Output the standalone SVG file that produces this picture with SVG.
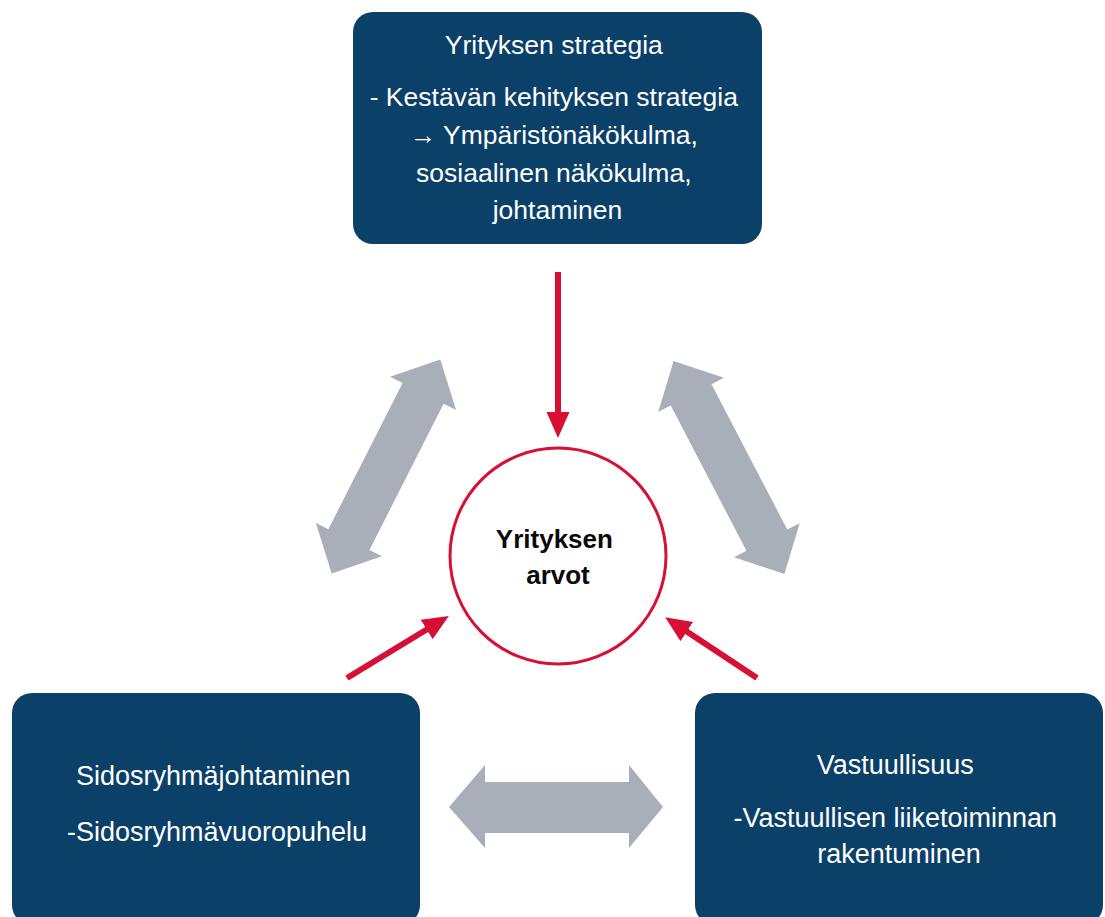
<svg xmlns="http://www.w3.org/2000/svg" width="1105" height="917" viewBox="0 0 1105 917">
  <style>
    .box { fill: #0B4068; }
    .boxtext { font-family: "Liberation Sans", Arial, sans-serif; fill: #FFFFFF; text-anchor: middle; }
    .core { fill: #FFFFFF; stroke: #D70F34; stroke-width: 3; }
    .coretext { font-family: "Liberation Sans", Arial, sans-serif; font-weight: bold; font-size: 26px; fill: #0A0A0A; text-anchor: middle; }
    .flow { stroke: #D70F34; stroke-width: 6; fill: none; marker-end: url(#redHead); }
    .link { fill: #A9AFB9; }
  </style>
  <defs>
    <marker id="redHead" markerUnits="userSpaceOnUse" markerWidth="27" markerHeight="25" refX="1" refY="11.5" orient="auto">
      <path d="M0,0 L26,11.5 L0,23 Z" fill="#D70F34"/>
    </marker>
    <!-- two-headed block arrow used for the links between the three pillars -->
    <path id="diagArrow" d="M-120,0 L-82,-37 L-82,-23 L82,-23 L82,-37 L120,0 L82,37 L82,23 L-82,23 L-82,37 Z"/>
  </defs>

  <g id="connectors">
    <!-- grey two-way links -->
    <use href="#diagArrow" class="link" transform="translate(386,466.5) rotate(-63.1)"/>
    <use href="#diagArrow" class="link" transform="translate(729,467.5) rotate(62.5)"/>
    <path class="link" d="M449,807 L485,765 L485,782 L629,782 L629,765 L663,807 L629,848 L629,833 L485,833 L485,848 Z"/>
    <!-- red arrows into the core values -->
    <line class="flow" x1="558" y1="272" x2="558" y2="413"/>
    <line class="flow" x1="347" y1="678" x2="427.5" y2="629"/>
    <line class="flow" x1="757" y1="678" x2="686" y2="631"/>
  </g>

  <g id="node-strategia">
    <rect class="box" x="353" y="12" width="409" height="232" rx="20"/>
    <text class="boxtext" font-size="26.5">
      <tspan x="557.5" y="54">Yrityksen strategia</tspan>
      <tspan x="557.5" y="106">- Kestävän kehityksen strategia</tspan>
      <tspan x="557.5" y="144"><tspan font-weight="bold">→</tspan> Ympäristönäkökulma,</tspan>
      <tspan x="557.5" y="182">sosiaalinen näkökulma,</tspan>
      <tspan x="557.5" y="219">johtaminen</tspan>
    </text>
  </g>

  <g id="node-arvot">
    <circle class="core" cx="558" cy="556" r="108"/>
    <text class="coretext">
      <tspan x="558" y="548">Yrityksen</tspan>
      <tspan x="558" y="584">arvot</tspan>
    </text>
  </g>

  <g id="node-sidosryhmat">
    <rect class="box" x="12" y="693" width="408" height="232" rx="20"/>
    <text class="boxtext" font-size="27">
      <tspan x="217" y="785">Sidosryhmäjohtaminen</tspan>
      <tspan x="217" y="841">-Sidosryhmävuoropuhelu</tspan>
    </text>
  </g>

  <g id="node-vastuullisuus">
    <rect class="box" x="695" y="693" width="408" height="232" rx="20"/>
    <text class="boxtext" font-size="27">
      <tspan x="899" y="774">Vastuullisuus</tspan>
      <tspan x="899" y="827">-Vastuullisen liiketoiminnan</tspan>
      <tspan x="899" y="863">rakentuminen</tspan>
    </text>
  </g>
</svg>
